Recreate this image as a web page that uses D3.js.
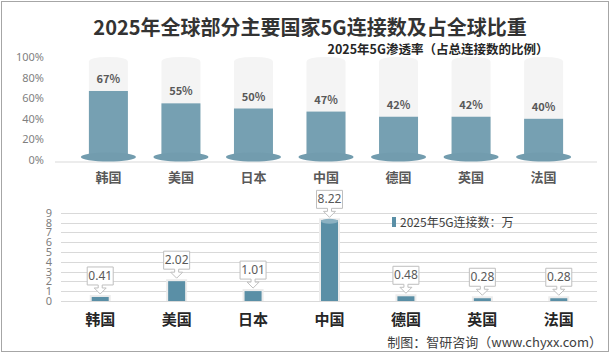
<!DOCTYPE html>
<html>
<head>
<meta charset="utf-8">
<script src="https://d3js.org/d3.v7.min.js"></script>
<style>
body { margin: 0; background: #fff; }
text { font-family: "Noto Sans CJK SC", "Noto Sans", sans-serif; }
</style>
</head>
<body>
<script>
var width = 610, height = 354;

// data
var countries = ['韩国', '美国', '日本', '中国', '德国', '英国', '法国'];
var penetration = [67, 55, 50, 47, 42, 42, 40];          // 2025年5G渗透率 %
var connections = [0.41, 2.02, 1.01, 8.22, 0.48, 0.28, 0.28]; // 2025年5G连接数
var pctTicks = [0, 20, 40, 60, 80, 100];
var numTicks = d3.range(0, 10);

var svg = d3.select('body').append('svg').attr('width', width).attr('height', height);

// outer frame
svg.append('rect').attr('x', 1.5).attr('y', 1.5).attr('width', 607).attr('height', 350)
  .attr('fill', '#fff').attr('stroke', '#a6a6a6');

svg.append('text').attr('x', 310).attr('y', 35).attr('text-anchor', 'middle')
  .attr('font-size', 20).attr('font-weight', 'bold').attr('fill', '#333')
  .text('2025年全球部分主要国家5G连接数及占全球比重');

svg.append('text').attr('x', 438).attr('y', 54).attr('text-anchor', 'middle')
  .attr('font-size', 12.5).attr('font-weight', 'bold').attr('fill', '#262626')
  .text('2025年5G渗透率（占总连接数的比例）');

// ---------- top chart: penetration ----------
var x1 = d3.scaleBand().domain(countries).range([54, 598]).padding(0.5);
var y1 = d3.scaleLinear().domain([0, 100]).range([160, 57]);

var topAxis = svg.append('g').attr('transform', 'translate(44,0)')
  .call(d3.axisLeft(y1).tickValues(pctTicks).tickSize(0).tickFormat(function(d) { return d + '%'; }));
topAxis.select('.domain').remove();
topAxis.selectAll('text').attr('font-size', 11).attr('fill', '#7f7f7f')
  .style('font-family', '"Noto Sans", sans-serif').attr('x', 0);

svg.append('line').attr('x1', 55).attr('x2', 597).attr('y1', 162).attr('y2', 162)
  .attr('stroke', '#d9d9d9');

var tg = svg.append('g').selectAll('g').data(countries).join('g');
var bw = 39;
// background tube
tg.append('path').attr('fill', '#f4f4f4').attr('d', function(d) {
  var cx = x1(d) + x1.bandwidth() / 2, l = cx - bw / 2, r = cx + bw / 2, t = y1(100), b = 160;
  return 'M' + l + ',' + b + 'L' + l + ',' + (t + 5) + 'Q' + l + ',' + t + ' ' + cx + ',' + t +
    'Q' + r + ',' + t + ' ' + r + ',' + (t + 5) + 'L' + r + ',' + b + 'Z';
});
tg.append('rect')
  .attr('x', function(d) { return x1(d) + x1.bandwidth() / 2 - bw / 2; })
  .attr('y', function(d, i) { return y1(penetration[i]); })
  .attr('width', bw)
  .attr('height', function(d, i) { return 158 - y1(penetration[i]); })
  .attr('fill', '#76a0b2');
tg.append('ellipse')
  .attr('cx', function(d) { return x1(d) + x1.bandwidth() / 2; })
  .attr('cy', 157).attr('rx', 27.5).attr('ry', 4.5).attr('fill', '#729cae');
tg.append('text')
  .attr('x', function(d) { return x1(d) + x1.bandwidth() / 2; })
  .attr('y', function(d, i) { return y1(penetration[i]) - 8; })
  .attr('text-anchor', 'middle').attr('font-size', 11).attr('font-weight', 'bold').attr('fill', '#595959')
  .text(function(d, i) { return penetration[i] + '%'; });

svg.append('g').selectAll('text').data(countries).join('text')
  .attr('x', function(d) { return x1(d) + x1.bandwidth() / 2; })
  .attr('y', 182).attr('text-anchor', 'middle')
  .attr('font-size', 13).attr('font-weight', 'bold').attr('fill', '#595959')
  .text(function(d) { return d; });

// ---------- bottom chart: connections ----------
var x2 = d3.scaleBand().domain(countries).range([62, 597]);
var y2 = d3.scaleLinear().domain([0, 9]).range([301, 212.7]);

svg.append('g').selectAll('line').data(numTicks).join('line')
  .attr('x1', 61).attr('x2', 597)
  .attr('y1', function(d) { return Math.round(y2(d)) + 0.5; })
  .attr('y2', function(d) { return Math.round(y2(d)) + 0.5; })
  .attr('stroke', '#d9d9d9');

var botAxis = svg.append('g').attr('transform', 'translate(52,0)')
  .call(d3.axisLeft(y2).tickValues(numTicks).tickSize(0).tickFormat(d3.format('d')));
botAxis.select('.domain').remove();
botAxis.selectAll('text').attr('font-size', 11).attr('fill', '#7f7f7f')
  .style('font-family', '"Noto Sans", sans-serif').attr('x', 0);

var bw2 = 17;
var bg = svg.append('g').selectAll('g').data(countries).join('g');
bg.append('rect')
  .attr('x', function(d) { return x2(d) + x2.bandwidth() / 2 - bw2 / 2 - 2; })
  .attr('y', function(d, i) { return y2(connections[i]) - 2; })
  .attr('width', bw2 + 4)
  .attr('height', function(d, i) { return 301 - y2(connections[i]) + 2; })
  .attr('fill', '#ececec');
bg.append('rect')
  .attr('x', function(d) { return x2(d) + x2.bandwidth() / 2 - bw2 / 2; })
  .attr('y', function(d, i) { return y2(connections[i]); })
  .attr('width', bw2)
  .attr('height', function(d, i) { return 301 - y2(connections[i]); })
  .attr('fill', '#5a8fa6');
bg.filter(function(d, i) { return connections[i] > 3; }).append('ellipse')
  .attr('cx', function(d) { return x2(d) + x2.bandwidth() / 2; })
  .attr('cy', function(d) { return y2(connections[countries.indexOf(d)]) + 1; })
  .attr('rx', bw2 / 2).attr('ry', 2.5).attr('fill', '#8bb1c2');

// callouts
bg.append('path')
  .attr('fill', '#fff').attr('stroke', '#bfbfbf')
  .attr('d', function(d, i) {
    var cx = x2(d) + x2.bandwidth() / 2, top = y2(connections[i]);
    var b = top - 12, t = b - 18, l = cx - 13, r = cx + 13;
    return 'M' + l + ',' + t + 'L' + r + ',' + t + 'L' + r + ',' + b +
      'L' + (cx + 2) + ',' + b + 'L' + (cx + 2) + ',' + (b + 3) + 'L' + (cx + 6) + ',' + (b + 3) +
      'L' + cx + ',' + (b + 9) + 'L' + (cx - 6) + ',' + (b + 3) + 'L' + (cx - 2) + ',' + (b + 3) +
      'L' + (cx - 2) + ',' + b + 'L' + l + ',' + b + 'Z';
  });
bg.append('text')
  .attr('x', function(d) { return x2(d) + x2.bandwidth() / 2; })
  .attr('y', function(d, i) { return y2(connections[i]) - 17; })
  .attr('text-anchor', 'middle').attr('font-size', 12).attr('fill', '#595959')
  .style('font-family', '"Noto Sans", sans-serif')
  .text(function(d, i) { return connections[i].toFixed(2); });

svg.append('g').selectAll('text').data(countries).join('text')
  .attr('x', function(d) { return x2(d) + x2.bandwidth() / 2; })
  .attr('y', 325).attr('text-anchor', 'middle')
  .attr('font-size', 15).attr('font-weight', 'bold').attr('fill', '#262626')
  .text(function(d) { return d; });

// legend
svg.append('rect').attr('x', 392).attr('y', 217).attr('width', 4).attr('height', 10).attr('fill', '#5a8fa6');
svg.append('text').attr('x', 400).attr('y', 226.5).attr('font-size', 12).attr('fill', '#404040')
  .text('2025年5G连接数：万');

// source
svg.append('text').attr('x', 602).attr('y', 347).attr('text-anchor', 'end')
  .attr('font-size', 13).attr('fill', '#404040')
  .text('制图：智研咨询（www.chyxx.com）');
</script>
</body>
</html>
